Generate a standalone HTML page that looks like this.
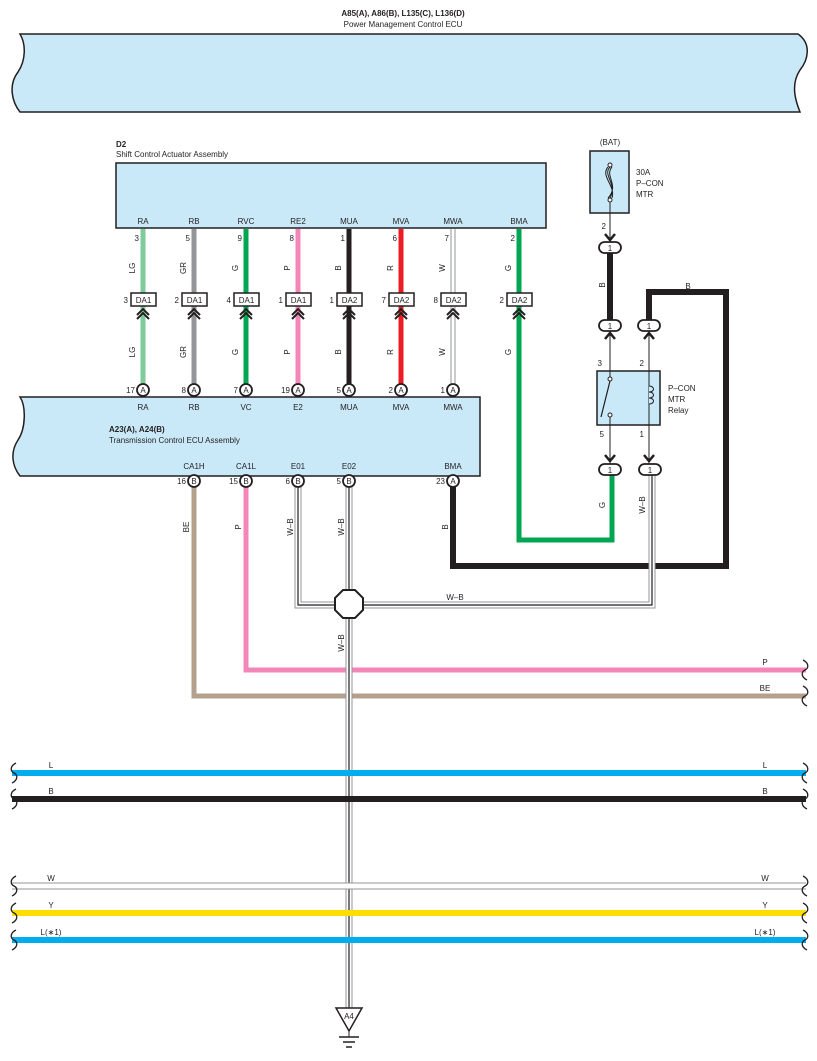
<!DOCTYPE html>
<html><head><meta charset="utf-8"><style>
html,body{margin:0;padding:0;background:#fff}
svg{display:block}
text{font-family:"Liberation Sans",sans-serif;font-size:8px;fill:#231f20}
</style></head><body>
<svg width="817" height="1061" viewBox="0 0 817 1061" xmlns="http://www.w3.org/2000/svg">
<defs>
<g id="chev"><path d="M-6,4 L0,-2 L6,4 M-6,8 L0,2 L6,8" fill="none" stroke="#231f20" stroke-width="2"/></g>
<g id="dchev"><path d="M-5,-4 L0,2 L5,-4" fill="none" stroke="#231f20" stroke-width="2.5"/></g>
</defs>
<!-- top ECU -->
<text x="403" y="16" text-anchor="middle" font-weight="bold">A85(A), A86(B), L135(C), L136(D)</text>
<text x="403" y="27" text-anchor="middle">Power Management Control ECU</text>
<path d="M20,34 L798,34 C812,44 808,60 800,70 C790,85 796,102 800,112 L20,112 C12,102 8,85 18,72 C26,60 26,44 20,34 Z" fill="#c9e9f8" stroke="#231f20" stroke-width="1.5"/>
<!-- D2 -->
<text x="116" y="147" font-weight="bold">D2</text>
<text x="116" y="157">Shift Control Actuator Assembly</text>
<rect x="116" y="163" width="430" height="65" fill="#c9e9f8" stroke="#231f20" stroke-width="1.5"/>
<!-- wires D2 to ECU -->
<g stroke-width="5" fill="none">
<line x1="143" y1="229" x2="143" y2="385" stroke="#7fcb9c"/>
<line x1="194" y1="229" x2="194" y2="385" stroke="#939598"/>
<line x1="246" y1="229" x2="246" y2="385" stroke="#00a651"/>
<line x1="298" y1="229" x2="298" y2="385" stroke="#f287b7"/>
<line x1="349" y1="229" x2="349" y2="385" stroke="#231f20"/>
<line x1="401" y1="229" x2="401" y2="385" stroke="#ed1c24"/>
<polyline points="519,229 519,540 612,540 612,475" stroke="#00a651"/>
</g>
<g stroke="#939598" stroke-width="5"><line x1="453" y1="229" x2="453" y2="385"/></g>
<g stroke="#fff" stroke-width="3"><line x1="453" y1="229" x2="453" y2="385"/></g>
<g text-anchor="middle">
<text x="143" y="224">RA</text><text x="194" y="224">RB</text><text x="246" y="224">RVC</text><text x="298" y="224">RE2</text><text x="349" y="224">MUA</text><text x="401" y="224">MVA</text><text x="453" y="224">MWA</text><text x="519" y="224">BMA</text>
</g>
<g text-anchor="end">
<text x="139" y="241">3</text><text x="190" y="241">5</text><text x="242" y="241">9</text><text x="294" y="241">8</text><text x="345" y="241">1</text><text x="397" y="241">6</text><text x="449" y="241">7</text><text x="515" y="241">2</text>
</g>
<g id="lbl">
<text transform="translate(135,268) rotate(-90)" text-anchor="middle">LG</text>
<text transform="translate(186,268) rotate(-90)" text-anchor="middle">GR</text>
<text transform="translate(238,268) rotate(-90)" text-anchor="middle">G</text>
<text transform="translate(290,268) rotate(-90)" text-anchor="middle">P</text>
<text transform="translate(341,268) rotate(-90)" text-anchor="middle">B</text>
<text transform="translate(393,268) rotate(-90)" text-anchor="middle">R</text>
<text transform="translate(445,268) rotate(-90)" text-anchor="middle">W</text>
<text transform="translate(511,268) rotate(-90)" text-anchor="middle">G</text>
</g>
<g transform="translate(0,84)">
<text transform="translate(135,268) rotate(-90)" text-anchor="middle">LG</text>
<text transform="translate(186,268) rotate(-90)" text-anchor="middle">GR</text>
<text transform="translate(238,268) rotate(-90)" text-anchor="middle">G</text>
<text transform="translate(290,268) rotate(-90)" text-anchor="middle">P</text>
<text transform="translate(341,268) rotate(-90)" text-anchor="middle">B</text>
<text transform="translate(393,268) rotate(-90)" text-anchor="middle">R</text>
<text transform="translate(445,268) rotate(-90)" text-anchor="middle">W</text>
<text transform="translate(511,268) rotate(-90)" text-anchor="middle">G</text>
</g>
<!-- DA boxes -->
<g fill="#fff" stroke="#231f20" stroke-width="1.5">
<rect x="131" y="293" width="25" height="13"/><rect x="182" y="293" width="25" height="13"/><rect x="234" y="293" width="25" height="13"/><rect x="286" y="293" width="25" height="13"/><rect x="337" y="293" width="25" height="13"/><rect x="389" y="293" width="25" height="13"/><rect x="441" y="293" width="25" height="13"/><rect x="507" y="293" width="25" height="13"/>
</g>
<g text-anchor="middle">
<text x="143.5" y="303">DA1</text><text x="194.5" y="303">DA1</text><text x="246.5" y="303">DA1</text><text x="298.5" y="303">DA1</text><text x="349.5" y="303">DA2</text><text x="401.5" y="303">DA2</text><text x="453.5" y="303">DA2</text><text x="519.5" y="303">DA2</text>
</g>
<g text-anchor="end">
<text x="128" y="303">3</text><text x="179" y="303">2</text><text x="231" y="303">4</text><text x="283" y="303">1</text><text x="334" y="303">1</text><text x="386" y="303">7</text><text x="438" y="303">8</text><text x="504" y="303">2</text>
</g>
<g>
<use href="#chev" x="143" y="311"/><use href="#chev" x="194" y="311"/><use href="#chev" x="246" y="311"/><use href="#chev" x="298" y="311"/><use href="#chev" x="349" y="311"/><use href="#chev" x="401" y="311"/><use href="#chev" x="453" y="311"/><use href="#chev" x="519" y="311"/>
</g>
<!-- ECU -->
<path d="M20,397 L480,397 L480,476 L20,476 C12,466 10,452 18,440 C26,428 26,406 20,397 Z" fill="#c9e9f8" stroke="#231f20" stroke-width="1.5"/>
<g fill="#fff" stroke="#231f20" stroke-width="1.8">
<circle cx="143" cy="390" r="6"/><circle cx="194" cy="390" r="6"/><circle cx="246" cy="390" r="6"/><circle cx="298" cy="390" r="6"/><circle cx="349" cy="390" r="6"/><circle cx="401" cy="390" r="6"/><circle cx="453" cy="390" r="6"/>
</g>
<g text-anchor="middle"><text x="143" y="393">A</text><text x="194" y="393">A</text><text x="246" y="393">A</text><text x="298" y="393">A</text><text x="349" y="393">A</text><text x="401" y="393">A</text><text x="453" y="393">A</text></g>
<g text-anchor="end"><text x="135" y="393">17</text><text x="186" y="393">8</text><text x="238" y="393">7</text><text x="290" y="393">19</text><text x="341" y="393">5</text><text x="393" y="393">2</text><text x="445" y="393">1</text></g>
<g text-anchor="middle">
<text x="143" y="410">RA</text><text x="194" y="410">RB</text><text x="246" y="410">VC</text><text x="298" y="410">E2</text><text x="349" y="410">MUA</text><text x="401" y="410">MVA</text><text x="453" y="410">MWA</text>
<text x="194" y="469">CA1H</text><text x="246" y="469">CA1L</text><text x="298" y="469">E01</text><text x="349" y="469">E02</text><text x="453" y="469">BMA</text>
</g>
<text x="109" y="432" font-weight="bold">A23(A), A24(B)</text>
<text x="109" y="443">Transmission Control ECU Assembly</text>
<!-- lower wires -->
<g fill="none" stroke-width="5">
<polyline points="194,487 194,696 806,696" stroke="#b4a08c"/>
<polyline points="246,487 246,670 806,670" stroke="#f287b7"/>
<polyline points="453,487 453,566 726,566 726,292 649,292 649,320" stroke="#231f20" stroke-width="6"/>
<line x1="610" y1="253" x2="610" y2="320" stroke="#231f20" stroke-width="6"/>
</g>
<!-- W-B wires -->
<g fill="none">
<g stroke="#939598" stroke-width="7"><polyline points="298,487 298,605 652,605 652,475"/><line x1="349" y1="487" x2="349" y2="1008"/></g>
<g stroke="#fff" stroke-width="5"><polyline points="298,487 298,605 652,605 652,475"/><line x1="349" y1="487" x2="349" y2="1008"/></g>
<g stroke="#231f20" stroke-width="1.2"><polyline points="298,487 298,605 652,605 652,475"/><line x1="349" y1="487" x2="349" y2="1008"/></g>
</g>
<polygon points="343,590 355,590 363,598 363,610 355,618 343,618 335,610 335,598" fill="#fff" stroke="#231f20" stroke-width="2"/>
<g fill="#fff" stroke="#231f20" stroke-width="1.8">
<circle cx="194" cy="481" r="6"/><circle cx="246" cy="481" r="6"/><circle cx="298" cy="481" r="6"/><circle cx="349" cy="481" r="6"/><circle cx="453" cy="481" r="6"/>
</g>
<g text-anchor="middle"><text x="194" y="484">B</text><text x="246" y="484">B</text><text x="298" y="484">B</text><text x="349" y="484">B</text><text x="453" y="484">A</text></g>
<g text-anchor="end"><text x="186" y="484">16</text><text x="238" y="484">15</text><text x="290" y="484">6</text><text x="341" y="484">5</text><text x="445" y="484">23</text></g>
<text transform="translate(189,527) rotate(-90)" text-anchor="middle">BE</text>
<text transform="translate(241,527) rotate(-90)" text-anchor="middle">P</text>
<text transform="translate(293,527) rotate(-90)" text-anchor="middle">W–B</text>
<text transform="translate(344,527) rotate(-90)" text-anchor="middle">W–B</text>
<text transform="translate(344,643) rotate(-90)" text-anchor="middle">W–B</text>
<text transform="translate(448,527) rotate(-90)" text-anchor="middle">B</text>
<text transform="translate(605,505) rotate(-90)" text-anchor="middle">G</text>
<text transform="translate(645,505) rotate(-90)" text-anchor="middle">W–B</text>
<text transform="translate(605,285) rotate(-90)" text-anchor="middle">B</text>
<text x="455" y="600" text-anchor="middle">W–B</text>
<text x="688" y="289" text-anchor="middle">B</text>
<text x="765" y="665" text-anchor="middle">P</text>
<text x="765" y="691" text-anchor="middle">BE</text>
<!-- fuse / relay -->
<text x="610" y="145" text-anchor="middle">(BAT)</text>
<rect x="590" y="151" width="39" height="62" fill="#c9e9f8" stroke="#231f20" stroke-width="1.5"/>
<circle cx="610" cy="165" r="2" fill="#fff" stroke="#231f20"/><circle cx="610" cy="200" r="2" fill="#fff" stroke="#231f20"/>
<path d="M610,167 C602,175 618,184 610,198 M612,167 C604,176 620,185 608,198 M608,167 C600,176 616,186 612,198" fill="none" stroke="#231f20" stroke-width="1"/>
<text x="636" y="175">30A</text><text x="636" y="186">P–CON</text><text x="636" y="197">MTR</text>
<line x1="610" y1="202" x2="610" y2="240" stroke="#231f20"/>
<text x="606" y="229" text-anchor="end">2</text>
<use href="#dchev" x="610" y="238"/>
<rect x="599" y="242" width="22" height="11" rx="5.5" fill="#fff" stroke="#231f20" stroke-width="1.8"/>
<text x="610" y="251" text-anchor="middle">1</text>
<g fill="#fff" stroke="#231f20" stroke-width="1.8">
<rect x="599" y="320" width="22" height="11" rx="5.5"/><rect x="638" y="320" width="22" height="11" rx="5.5"/>
<rect x="599" y="464" width="22" height="11" rx="5.5"/><rect x="639" y="464" width="22" height="11" rx="5.5"/>
</g>
<g text-anchor="middle"><text x="610" y="329">1</text><text x="649" y="329">1</text><text x="610" y="473">1</text><text x="650" y="473">1</text></g>
<g stroke="#231f20" fill="none">
<line x1="610" y1="331" x2="610" y2="464"/><line x1="649" y1="331" x2="649" y2="464"/>
</g>
<use href="#dchev" x="610" y="339" transform="rotate(180 610 337)"/>
<use href="#dchev" x="649" y="339" transform="rotate(180 649 337)"/>
<use href="#dchev" x="610" y="459"/><use href="#dchev" x="649" y="459"/>
<rect x="597" y="371" width="63" height="54" fill="#c9e9f8" stroke="#231f20" stroke-width="1.5"/>
<line x1="610" y1="371" x2="610" y2="379" stroke="#231f20"/><line x1="610" y1="417" x2="610" y2="425" stroke="#231f20"/>
<line x1="649" y1="371" x2="649" y2="425" stroke="#231f20"/>
<circle cx="610" cy="379" r="2" fill="#fff" stroke="#231f20"/><circle cx="610" cy="415" r="2" fill="#fff" stroke="#231f20"/>
<line x1="610" y1="381" x2="601" y2="417" stroke="#231f20" stroke-width="1.2"/>
<path d="M649,386 c6,0 6,6 0,6 c6,0 6,6 0,6 c6,0 6,6 0,6" fill="#c9e9f8" stroke="#231f20"/>
<text x="602" y="366" text-anchor="end">3</text><text x="644" y="366" text-anchor="end">2</text>
<text x="604" y="437" text-anchor="end">5</text><text x="644" y="437" text-anchor="end">1</text>
<text x="668" y="391">P–CON</text><text x="668" y="402">MTR</text><text x="668" y="413">Relay</text>
<!-- bus lines -->
<g fill="none">
<line x1="12" y1="773" x2="806" y2="773" stroke="#00aeef" stroke-width="6"/>
<line x1="12" y1="799" x2="806" y2="799" stroke="#231f20" stroke-width="6"/>
<line x1="12" y1="886" x2="806" y2="886" stroke="#939598" stroke-width="7"/>
<line x1="12" y1="886" x2="806" y2="886" stroke="#fff" stroke-width="5"/>
<line x1="12" y1="913" x2="806" y2="913" stroke="#ffdd00" stroke-width="6"/>
<line x1="12" y1="940" x2="806" y2="940" stroke="#00aeef" stroke-width="6"/>
</g>
<g fill="none" stroke="#231f20" stroke-width="1.3">
<path d="M16,763 c-6,3 -6,8 -2,10 c4,2 4,7 -2,10"/><path d="M16,789 c-6,3 -6,8 -2,10 c4,2 4,7 -2,10"/>
<path d="M16,876 c-6,3 -6,8 -2,10 c4,2 4,7 -2,10"/><path d="M16,903 c-6,3 -6,8 -2,10 c4,2 4,7 -2,10"/><path d="M16,930 c-6,3 -6,8 -2,10 c4,2 4,7 -2,10"/>
<path d="M803,660 c6,3 6,8 2,10 c-4,2 -4,7 2,10"/><path d="M803,686 c6,3 6,8 2,10 c-4,2 -4,7 2,10"/>
<path d="M803,763 c6,3 6,8 2,10 c-4,2 -4,7 2,10"/><path d="M803,789 c6,3 6,8 2,10 c-4,2 -4,7 2,10"/>
<path d="M803,876 c6,3 6,8 2,10 c-4,2 -4,7 2,10"/><path d="M803,903 c6,3 6,8 2,10 c-4,2 -4,7 2,10"/><path d="M803,930 c6,3 6,8 2,10 c-4,2 -4,7 2,10"/>
</g>
<g text-anchor="middle">
<text x="51" y="768">L</text><text x="765" y="768">L</text>
<text x="51" y="794">B</text><text x="765" y="794">B</text>
<text x="51" y="881">W</text><text x="765" y="881">W</text>
<text x="51" y="908">Y</text><text x="765" y="908">Y</text>
<text x="51" y="935">L(∗1)</text><text x="765" y="935">L(∗1)</text>
</g>
<!-- ground -->
<polygon points="336,1008 362,1008 349,1031" fill="#fff" stroke="#231f20" stroke-width="1.5"/>
<text x="349" y="1019" text-anchor="middle" font-size="7">A4</text>
<line x1="349" y1="1031" x2="349" y2="1037" stroke="#231f20"/>
<line x1="339" y1="1037" x2="359" y2="1037" stroke="#231f20" stroke-width="1.5"/>
<line x1="343" y1="1042" x2="355" y2="1042" stroke="#231f20" stroke-width="1.5"/>
<line x1="346" y1="1047" x2="352" y2="1047" stroke="#231f20" stroke-width="1.5"/>
</svg>
</body></html>
